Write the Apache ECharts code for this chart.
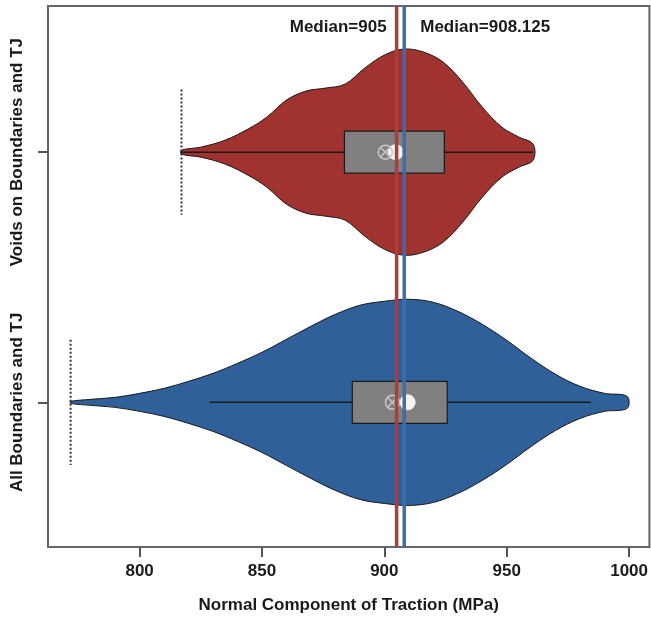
<!DOCTYPE html>
<html><head><meta charset="utf-8">
<script src="https://cdn.jsdelivr.net/npm/echarts@6/dist/echarts.min.js"></script>
<style>html,body{margin:0;padding:0;background:#fff}#c{width:651px;height:635px}</style>
</head><body><div id="c"></div>
<script>
// ---- data ----
const categories = ["All Boundaries and TJ", "Voids on Boundaries and TJ"];
const xTicks = [800, 850, 900, 950, 1000];
const medians = [908.125, 905];
const medianLabels = ["Median=908.125", "Median=905"];

// violin density profiles: x value, half width (category units)
const allX = [771.8, 780, 790, 800, 810, 820, 830, 840, 850, 860, 870, 880, 890, 900, 910, 920, 930, 940, 950, 960, 970, 980, 990, 999.2];
const allW = [0.004, 0.012, 0.02, 0.036, 0.056, 0.084, 0.116, 0.156, 0.2, 0.252, 0.304, 0.352, 0.388, 0.404, 0.412, 0.4, 0.364, 0.312, 0.248, 0.176, 0.112, 0.064, 0.036, 0.024];
const voidsX = [817.1, 825, 835, 845, 852, 860, 868, 876, 884, 892, 900, 908, 916, 924, 932, 940, 948, 955, 960.8];
const voidsW = [0.008, 0.02, 0.048, 0.096, 0.14, 0.208, 0.244, 0.256, 0.272, 0.336, 0.388, 0.412, 0.4, 0.36, 0.28, 0.18, 0.1, 0.06, 0.032];

// box stats per category
const boxLow = [828.6, 817.1];
const boxQ1 = [886.9, 883.7];
const boxQ3 = [925.7, 924.5];
const boxHigh = [984.4, 960.8];
const means = [903.3, 900.4];
const medianDots = [909.5, 904.6];
const minValues = [771.8, 817.1];

const fills = ["#30609A", "#A0332F"];
const medianColors = ["#3A6DB0", "#B23A38"];

const profiles = [[allX, allW], [voidsX, voidsW]];

const chart = echarts.init(document.getElementById('c'));
const FONT = '"Liberation Sans", Arial, sans-serif';

function violinItem(params, api) {
  const i = params.dataIndex;
  const cat = i + 1;
  const xs = profiles[i][0], ws = profiles[i][1];
  const top = [], bot = [];
  for (let k = 0; k < xs.length; k++) {
    top.push(api.coord([xs[k], cat + ws[k]]));
    bot.push(api.coord([xs[k], cat - ws[k]]));
  }
  const pts = top.concat(bot.reverse());
  const cy = api.coord([boxQ1[i], cat])[1];
  const bh = api.size([0, 0.084])[1];
  const q1 = api.coord([boxQ1[i], cat])[0];
  const q3 = api.coord([boxQ3[i], cat])[0];
  const wl = api.coord([boxLow[i], cat])[0];
  const wh = api.coord([boxHigh[i], cat])[0];
  const mx = api.coord([means[i], cat])[0];
  const md = api.coord([medianDots[i], cat])[0];
  const mn = api.coord([minValues[i], cat])[0];
  const dh = api.size([0, 0.25])[1];
  const r = 7;
  return {
    type: 'group',
    children: [
      { type: 'polygon', shape: { points: pts, smooth: 0.35 },
        style: { fill: fills[i], stroke: '#1a1a1a', lineWidth: 1 } },
      { type: 'line', shape: { x1: wl, y1: cy, x2: wh, y2: cy },
        style: { stroke: '#1a1a1a', lineWidth: 1.5 } },
      { type: 'rect', shape: { x: q1, y: cy - bh, width: q3 - q1, height: 2 * bh },
        style: { fill: '#808080', stroke: '#1a1a1a', lineWidth: 1.2 } },
      { type: 'circle', shape: { cx: md, cy: cy, r: 8 },
        style: { fill: '#f2f2f2', stroke: null } },
      { type: 'circle', shape: { cx: mx, cy: cy, r: r },
        style: { fill: 'none', stroke: '#c8c8c8', lineWidth: 1.5 } },
      { type: 'line', shape: { x1: mx - r * 0.7, y1: cy - r * 0.7, x2: mx + r * 0.7, y2: cy + r * 0.7 },
        style: { stroke: '#c8c8c8', lineWidth: 1.5 } },
      { type: 'line', shape: { x1: mx - r * 0.7, y1: cy + r * 0.7, x2: mx + r * 0.7, y2: cy - r * 0.7 },
        style: { stroke: '#c8c8c8', lineWidth: 1.5 } },
      { type: 'line', shape: { x1: mn, y1: cy - dh, x2: mn, y2: cy + dh },
        style: { stroke: '#333', lineWidth: 2, lineDash: [2, 2] } }
    ]
  };
}

function medianItem(params, api) {
  const i = params.dataIndex;
  const x = api.coord([medians[i], 2])[0];
  const yTop = api.coord([medians[i], 2.584])[1];
  const yBot = api.coord([medians[i], 0.422])[1];
  const left = i === 1;
  return {
    type: 'group',
    children: [
      { type: 'line', shape: { x1: x, y1: yTop, x2: x, y2: yBot },
        style: { stroke: medianColors[i], lineWidth: 3.5 } },
      { type: 'text', x: left ? x - 10 : x + 16, y: yTop + 21,
        style: { text: medianLabels[i], fill: '#1a1a1a',
          font: 'bold 17px ' + FONT,
          align: left ? 'right' : 'left', verticalAlign: 'middle' } }
    ]
  };
}

chart.setOption({
  animation: false,
  grid: { left: 48, right: 1, top: 6, bottom: 88, show: true,
    borderColor: '#666', borderWidth: 2, backgroundColor: '#fff' },
  xAxis: {
    type: 'value', min: 762.57, max: 1008.3,
    name: 'Normal Component of Traction (MPa)', nameLocation: 'middle', nameGap: 50,
    nameTextStyle: { fontFamily: FONT, fontWeight: 'bold', fontSize: 17, color: '#1a1a1a' },
    axisLine: { show: false },
    splitLine: { show: false },
    axisTick: { show: true, length: 10, customValues: xTicks, lineStyle: { color: '#555', width: 2 } },
    axisLabel: { customValues: xTicks, margin: 16, formatter: v => String(v),
      fontFamily: FONT, fontWeight: 'bold', fontSize: 17, color: '#1a1a1a' }
  },
  yAxis: {
    type: 'value', min: 0.422, max: 2.584,
    axisLine: { show: false },
    splitLine: { show: false },
    axisTick: { show: true, length: 10, customValues: [1, 2], lineStyle: { color: '#555', width: 2 } },
    axisLabel: { customValues: [1, 2], rotate: 90, margin: 22,
      formatter: v => categories[Math.round(v) - 1] || '',
      fontFamily: FONT, fontWeight: 'bold', fontSize: 17, color: '#1a1a1a' }
  },
  series: [
    { type: 'custom', renderItem: violinItem, data: categories.map((c, i) => [i]), z: 2, clip: false },
    { type: 'custom', renderItem: medianItem, data: medians.map((m, i) => [m]), z: 5, clip: false }
  ]
});
</script></body></html>
